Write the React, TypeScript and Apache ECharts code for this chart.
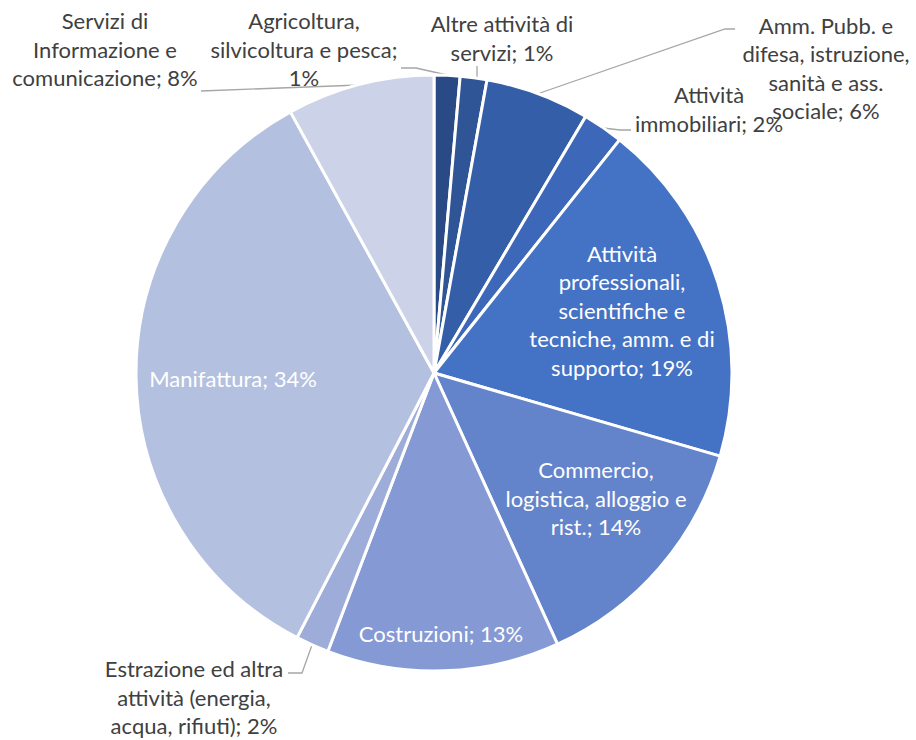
import React, { useEffect, useRef } from "react";
import * as echarts from "echarts";

const categories = [
  "Agricoltura, silvicoltura e pesca",
  "Altre attività di servizi",
  "Amm. Pubb. e difesa, istruzione, sanità e ass. sociale",
  "Attività immobiliari",
  "Attività professionali, scientifiche e tecniche, amm. e di supporto",
  "Commercio, logistica, alloggio e rist.",
  "Costruzioni",
  "Estrazione ed altra attività (energia, acqua, rifiuti)",
  "Manifattura",
  "Servizi di Informazione e comunicazione",
];

const values = [1.4, 1.45, 5.65, 2.2, 18.8, 13.7, 12.6, 1.8, 34.4, 8.0];

const labelTemplates = [
  "Agricoltura,\nsilvicoltura e pesca;\n{p}%",
  "Altre attività di\nservizi; {p}%",
  "Amm. Pubb. e\ndifesa, istruzione,\nsanità e ass.\nsociale; {p}%",
  "Attività\nimmobiliari; {p}%",
  "Attività\nprofessionali,\nscientifiche e\ntecniche, amm. e di\nsupporto; {p}%",
  "Commercio,\nlogistica, alloggio e\nrist.; {p}%",
  "Costruzioni; {p}%",
  "Estrazione ed altra\nattività (energia,\nacqua, rifiuti); {p}%",
  "Manifattura; {p}%",
  "Servizi di\nInformazione e\ncomunicazione; {p}%",
];

const colors = [
  "#294a84",
  "#2f5597",
  "#355ea8",
  "#3d67b8",
  "#4472c4",
  "#6383ca",
  "#8599d4",
  "#9dacd9",
  "#b4c0e0",
  "#ccd2e8",
];

const insideLabel = [false, false, false, false, true, true, true, false, true, false];

const labelCenters: [number, number][] = [
  [304, 49],
  [502, 38],
  [826, 68],
  [709, 109],
  [622, 310],
  [596, 498],
  [441, 633],
  [194, 697],
  [233, 378],
  [105, 49],
];

const leaderLines: Record<number, number[][]> = {
  0: [[401, 68], [416, 68], [447, 75]],
  1: [[477, 66], [477, 66], [477, 78]],
  2: [[735, 29], [725, 29], [540, 93]],
  3: [[631, 130], [620, 130], [603, 128]],
  7: [[288, 673], [302, 673], [312, 645]],
  9: [[201, 91], [201, 91], [360, 85]],
};

const FONT = "Lato";
const FONT_SIZE = 22;
const LINE_HEIGHT = 28.5;

export default function App() {
  const ref = useRef<HTMLDivElement>(null);

  useEffect(() => {
    if (!ref.current) return;
    const chart = echarts.init(ref.current, null, { renderer: "svg" });
    const total = values.reduce((a, b) => a + b, 0);

    const data = categories.map((name, i) => ({
      name,
      value: values[i],
      itemStyle: { color: colors[i] },
      label: {
        show: true,
        position: insideLabel[i] ? "inside" : "outside",
        color: insideLabel[i] ? "#ffffff" : "#404040",
      },
      labelLine: {
        show: !insideLabel[i],
        lineStyle: { color: "#a6a6a6", width: 1.3 },
      },
    }));

    chart.setOption({
      animation: false,
      backgroundColor: "#ffffff",
      series: [
        {
          type: "pie",
          center: [434, 373],
          radius: 298,
          startAngle: 90,
          clockwise: true,
          avoidLabelOverlap: false,
          silent: true,
          itemStyle: { borderColor: "#ffffff", borderWidth: 3 },
          label: {
            fontFamily: FONT,
            fontSize: FONT_SIZE,
            lineHeight: LINE_HEIGHT,
            align: "center",
            formatter: (p: any) =>
              labelTemplates[p.dataIndex].replace(
                "{p}",
                String(Math.round((values[p.dataIndex] / total) * 100))
              ),
          },
          labelLine: { show: true, length: 10, length2: 10 },
          labelLayout: (params: any) => {
            const i = params.dataIndex;
            const [x, y] = labelCenters[i];
            const out: any = { x, y, align: "center", verticalAlign: "middle" };
            if (leaderLines[i]) out.labelLinePoints = leaderLines[i];
            return out;
          },
          data,
        },
      ],
    });

    return () => chart.dispose();
  }, []);

  return (
    <div
      ref={ref}
      style={{ position: "absolute", left: 0, top: 0, width: 916, height: 740 }}
    />
  );
}
